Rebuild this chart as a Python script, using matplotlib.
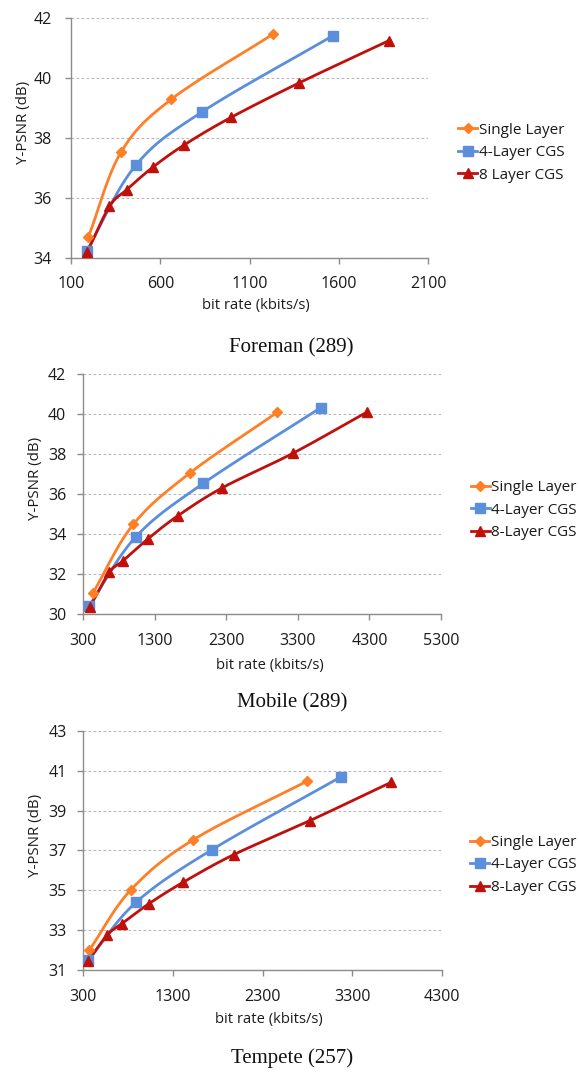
import numpy as np
import matplotlib
matplotlib.use("Agg")
import matplotlib.pyplot as plt

plt.rcParams['font.family'] = ['Open Sans', 'DejaVu Sans']

# --- Foreman (289) ---
foreman_single_x = [197, 380, 660, 1230]
foreman_single_y = [34.69, 37.52, 39.28, 41.46]
foreman_4cgs_x = [188, 462, 832, 1566]
foreman_4cgs_y = [34.23, 37.08, 38.86, 41.41]
foreman_8cgs_x = [191, 315, 412, 558, 735, 995, 1379, 1878]
foreman_8cgs_y = [34.19, 35.71, 36.27, 37.02, 37.77, 38.68, 39.84, 41.24]

# --- Mobile (289) ---
mobile_single_x = [435, 1003, 1794, 3014]
mobile_single_y = [31.03, 34.49, 37.06, 40.10]
mobile_4cgs_x = [388, 1040, 1980, 3620]
mobile_4cgs_y = [30.42, 33.87, 36.54, 40.33]
mobile_8cgs_x = [398, 667, 854, 1203, 1622, 2246, 3228, 4262]
mobile_8cgs_y = [30.37, 32.08, 32.65, 33.75, 34.91, 36.32, 38.04, 40.10]

# --- Tempete (257) ---
tempete_single_x = [367, 832, 1527, 2798]
tempete_single_y = [32.00, 35.03, 37.54, 40.49]
tempete_4cgs_x = [356, 891, 1731, 3170]
tempete_4cgs_y = [31.50, 34.41, 37.03, 40.69]
tempete_8cgs_x = [356, 568, 731, 1032, 1412, 1977, 2828, 3731]
tempete_8cgs_y = [31.47, 32.76, 33.33, 34.33, 35.40, 36.79, 38.50, 40.42]

ORANGE = '#FF7F27'
BLUE = '#5B8EDB'
RED = '#C0100C'
GRID = '#B8B8B8'
SPINE = '#8C8C8C'
TEXT = '#1A1A1A'


def smooth(xs, ys, n=30):
    # Catmull-Rom curve through the points (like Excel's "smoothed line")
    p = np.column_stack([xs, ys]).astype(float)
    p = np.vstack([2 * p[0] - p[1], p, 2 * p[-1] - p[-2]])
    out = []
    for i in range(1, len(p) - 2):
        p0, p1, p2, p3 = p[i - 1], p[i], p[i + 1], p[i + 2]
        t = np.linspace(0, 1, n)[:, None]
        seg = 0.5 * ((2 * p1) + (-p0 + p2) * t + (2 * p0 - 5 * p1 + 4 * p2 - p3) * t ** 2
                     + (-p0 + 3 * p1 - 3 * p2 + p3) * t ** 3)
        out.append(seg)
    c = np.vstack(out)
    return c[:, 0], c[:, 1]


def draw_series(ax, xs, ys, color, marker, ms, label):
    sx, sy = smooth(xs, ys)
    ax.plot(sx, sy, color=color, lw=2.0, solid_capstyle='round', zorder=3)
    ax.plot(xs, ys, linestyle='none', marker=marker, ms=ms, color=color,
            markeredgecolor=color, zorder=4)
    # legend proxy: line + marker
    ax.plot([], [], color=color, lw=2.0, marker=marker, ms=ms, label=label)


def style_axis(ax, xticks, yticks, ypad):
    ax.set_xlim(xticks[0], xticks[-1])
    ax.set_ylim(yticks[0], yticks[-1])
    ax.set_xticks(xticks)
    ax.set_yticks(yticks)
    for s in ['top', 'right']:
        ax.spines[s].set_visible(False)
    for s in ['left', 'bottom']:
        ax.spines[s].set_color(SPINE)
        ax.spines[s].set_linewidth(1.0)
    ax.tick_params(axis='both', colors=SPINE, labelcolor=TEXT, labelsize=11.5,
                   length=4, width=1.0, direction='out')
    ax.tick_params(axis='x', pad=9.5)
    ax.tick_params(axis='y', pad=ypad)
    ax.yaxis.grid(True, color=GRID, linestyle=(0, (2.5, 2)), linewidth=0.8)
    ax.set_axisbelow(True)


W, H = 579, 1072
fig = plt.figure(figsize=(W / 100, H / 100), dpi=100)


def fx(px):
    return px / W


def fy(py):
    return 1 - py / H


panels = [
    dict(rect=(71, 18, 428.3, 257.7), xticks=[100, 600, 1100, 1600, 2100],
         yticks=[34, 36, 38, 40, 42], ypad=10,
         data=[(foreman_single_x, foreman_single_y), (foreman_4cgs_x, foreman_4cgs_y),
               (foreman_8cgs_x, foreman_8cgs_y)],
         labels=['Single Layer', '4-Layer CGS', '8 Layer CGS'],
         legend=(458, 152.7), ylab=(24, 122), xlab=(256, 305),
         caption='Foreman (289)', cap=(291, 348)),
    dict(rect=(83, 374.3, 441, 614), xticks=[300, 1300, 2300, 3300, 4300, 5300],
         yticks=[30, 32, 34, 36, 38, 40, 42], ypad=8,
         data=[(mobile_single_x, mobile_single_y), (mobile_4cgs_x, mobile_4cgs_y),
               (mobile_8cgs_x, mobile_8cgs_y)],
         labels=['Single Layer', '4-Layer CGS', '8-Layer CGS'],
         legend=(470.7, 510), ylab=(35, 478), xlab=(270, 665),
         caption='Mobile (289)', cap=(292, 703)),
    dict(rect=(83.3, 731, 442, 970), xticks=[300, 1300, 2300, 3300, 4300],
         yticks=[31, 33, 35, 37, 39, 41, 43], ypad=8,
         data=[(tempete_single_x, tempete_single_y), (tempete_4cgs_x, tempete_4cgs_y),
               (tempete_8cgs_x, tempete_8cgs_y)],
         labels=['Single Layer', '4-Layer CGS', '8-Layer CGS'],
         legend=(470, 865), ylab=(35, 835), xlab=(269, 1020),
         caption='Tempete (257)', cap=(292, 1058)),
]

styles = [(ORANGE, 'D', 5), (BLUE, 's', 7), (RED, '^', 7)]

for p in panels:
    l, t, r, b = p['rect']
    ax = fig.add_axes([fx(l), fy(b), fx(r) - fx(l), (b - t) / H])
    style_axis(ax, p['xticks'], p['yticks'], p['ypad'])
    for (xs, ys), (c, m, ms), lab in zip(p['data'], styles, p['labels']):
        draw_series(ax, xs, ys, c, m, ms, lab)
    leg = ax.legend(loc='center left', bbox_to_anchor=(fx(p['legend'][0]), fy(p['legend'][1])),
                    bbox_transform=fig.transFigure, frameon=False, fontsize=11,
                    borderpad=0, borderaxespad=0, handlelength=1.25, handletextpad=0.1,
                    labelspacing=0.5)
    for txt in leg.get_texts():
        txt.set_color(TEXT)
    fig.text(fx(p['ylab'][0]), fy(p['ylab'][1]), 'Y-PSNR (dB)', rotation=90,
             ha='center', va='center', fontsize=10.8, color=TEXT)
    fig.text(fx(p['xlab'][0]), fy(p['xlab'][1]), 'bit rate (kbits/s)',
             ha='center', va='center', fontsize=10.6, color=TEXT)
    fig.text(fx(p['cap'][0]), fy(p['cap'][1]), p['caption'], ha='center', va='center',
             fontsize=15, family='Liberation Serif', color='#111111')

fig.savefig('out.png', dpi=100)
